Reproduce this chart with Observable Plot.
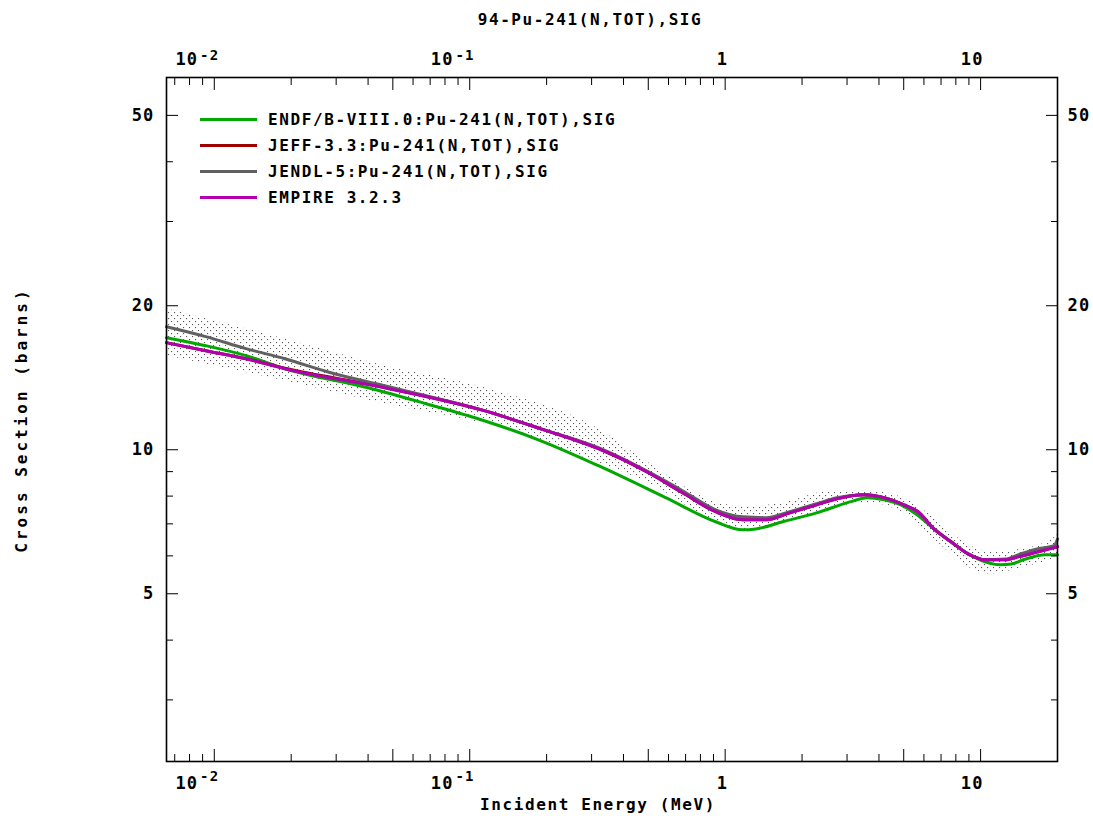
<!DOCTYPE html>
<html><head><meta charset="utf-8">
<script src="https://cdn.jsdelivr.net/npm/d3@7"></script>
<script src="https://cdn.jsdelivr.net/npm/@observablehq/plot@0.6"></script>
<style>
body{margin:0;background:#fff;}
#wrap{position:relative;width:1093px;height:816px;font-family:"DejaVu Sans Mono",monospace;font-weight:bold;font-size:16px;color:#000;}
#wrap svg text{letter-spacing:1.2px;}
.lbl{position:absolute;white-space:nowrap;letter-spacing:1.6px;line-height:16px;}
.leg{position:absolute;left:200px;top:106px;}
.leg .row{display:flex;align-items:center;height:26px;}
.leg .sw{width:57px;height:3px;margin-right:11px;}
.leg span{letter-spacing:1.6px;}
</style></head><body><div id="wrap"></div>
<script>
// ---- data ----
const seriesNames = ["ENDF/B-VIII.0:Pu-241(N,TOT),SIG","JEFF-3.3:Pu-241(N,TOT),SIG","JENDL-5:Pu-241(N,TOT),SIG","EMPIRE 3.2.3"];
const seriesColors = ["#00a800","#a00000","#606060","#b000b0"];

const endfE = [0.0065,0.00926,0.0133,0.0189,0.040,0.0675,0.114,0.19,0.319,0.585,0.918,1.17,1.32,1.68,2.28,3.08,3.59,4.19,4.88,5.64,6.57,7.66,8.93,10.4,12.0,13.2,15.0,17.9,20];
const endfS = [17.15,16.5,15.73,14.77,13.48,12.48,11.5,10.44,9.26,7.94,7.07,6.80,6.83,7.07,7.38,7.78,7.94,7.86,7.67,7.31,6.83,6.42,6.06,5.83,5.75,5.77,5.91,6.03,6.03];

const empireE = [0.0065,0.00926,0.0133,0.0189,0.0463,0.114,0.19,0.319,0.372,0.501,0.681,0.918,1.17,1.45,1.79,2.28,2.74,3.5,4.19,5.01,5.69,6.57,7.66,8.93,10.4,12.5,14.0,16.8,20];
const empireS = [16.74,16.11,15.5,14.77,13.48,12.07,11.06,10.05,9.71,8.95,8.13,7.42,7.14,7.14,7.38,7.67,7.90,8.05,7.94,7.67,7.42,6.83,6.42,6.06,5.89,5.89,5.97,6.12,6.27];

const jeffE = [0.0065,0.00926,0.0133,0.0189,0.0463,0.114,0.19,0.319,0.501,0.681,0.918,1.17,1.45,1.79,2.28,2.74,3.5,4.19,5.01,5.69,6.57,7.66,8.93,10.4,12.5,14.0,16.8,20];
const jeffS = [16.74,16.11,15.5,14.8,13.5,12.07,11.06,10.05,8.95,8.13,7.42,7.14,7.14,7.38,7.67,7.90,8.05,7.94,7.67,7.42,6.83,6.42,6.06,5.89,5.89,5.97,6.12,6.27];

const jendlE = [0.0065,0.00926,0.0133,0.0189,0.0286,0.0463,0.114,0.19,0.319,0.501,0.681,0.918,1.17,1.45,1.79,2.28,2.74,3.5,4.19,5.01,5.69,6.57,7.66,8.93,10.4,12.5,14.0,16.8,19.4,20];
const jendlS = [18.08,17.24,16.27,15.5,14.49,13.61,12.07,11.06,10.1,8.99,8.21,7.49,7.24,7.21,7.42,7.71,7.94,8.05,7.94,7.67,7.38,6.83,6.42,6.06,5.89,5.91,6.03,6.21,6.30,6.51];

const bandE  = [0.0065,0.0187,0.0463,0.114,0.319,0.501,0.918,1.25,1.68,2.66,3.59,4.88,6.57,8.93,11.0,14.0,19.1,20];
const bandHi = [19.72,17.07,14.99,13.48,11.06,9.39,7.78,7.60,7.75,8.21,8.21,7.97,7.21,6.33,6.12,6.18,6.51,6.64];
const bandLo = [15.73,13.95,12.48,11.33,9.39,8.53,7.07,6.74,7.04,7.56,7.75,7.42,6.51,5.69,5.50,5.64,5.91,5.97];

const xDomain = [0.0065, 20];
const yDomain = [2.23, 60];
const xMinor = [0.007,0.008,0.009,0.02,0.03,0.04,0.06,0.07,0.08,0.09,0.2,0.3,0.4,0.6,0.7,0.8,0.9,2,3,4,6,7,8,9];
const xMajor = [0.01,0.05,0.1,0.5,1,5,10];
const xPowTicks = [0.01,0.1];          // labelled as 10 with exponent
const xPowExp = ["-2","-1"];
const xPlainTicks = [1,10];
const xPlainText = ["1","10"];
const yMinor = [3,4,6,7,8,9,30,40];
const yMajor = [5,10,20,50];

// ---- build tables ----
const lines = [];
[[endfE,endfS],[jeffE,jeffS],[jendlE,jendlS],[empireE,empireS]].forEach(([E,S],k)=>{
  E.forEach((e,i)=>lines.push({series:seriesNames[k], E:e, S:S[i]}));
});
const band = bandE.map((e,i)=>({E:e, hi:bandHi[i], lo:bandLo[i]}));
const powBase = () => "10";
const powExp = d => xPowExp[xPowTicks.indexOf(d)];
const plainFmt = d => xPlainText[xPlainTicks.indexOf(d)];

function xLabelAxes(anchor, pad) {
  return [
    Plot.axisX(xPowTicks, {anchor, tickSize: 0, tickPadding: pad, tickFormat: powBase, textAnchor: "end", dx: -16, label: null}),
    Plot.axisX(xPowTicks, {anchor, tickSize: 0, tickPadding: pad, tickFormat: powExp, textAnchor: "end", dx: 5, dy: -5, fontSize: 14, label: null}),
    Plot.axisX(xPlainTicks, {anchor, tickSize: 0, tickPadding: pad, tickFormat: plainFmt, textAnchor: "end", dx: 3, label: null})
  ];
}

const chart = Plot.plot({
  width: 1093, height: 816,
  marginLeft: 166, marginRight: 36, marginTop: 77, marginBottom: 55,
  style: {fontFamily: "DejaVu Sans Mono", fontSize: "17px", fontWeight: "bold", color: "#000", background: "#fff"},
  x: {type: "log", domain: xDomain, axis: null},
  y: {type: "log", domain: yDomain, axis: null},
  color: {domain: seriesNames, range: seriesColors},
  marks: [
    Plot.areaY(band, {x: "E", y1: "lo", y2: "hi", fill: "url(#dots)", curve: "monotone-x"}),
    Plot.line(lines, {x: "E", y: "S", z: "series", stroke: "series", strokeWidth: 3, curve: "monotone-x"}),
    Plot.frame({stroke: "#000", strokeWidth: 1.6}),
    // inward ticks
    Plot.axisX(xMinor, {anchor: "bottom", tickSize: -7, fill: "none", label: null}),
    Plot.axisX(xMajor, {anchor: "bottom", tickSize: -12, fill: "none", label: null}),
    Plot.axisX(xMinor, {anchor: "top", tickSize: -7, fill: "none", label: null}),
    Plot.axisX(xMajor, {anchor: "top", tickSize: -12, fill: "none", label: null}),
    Plot.axisY(yMinor, {anchor: "left", tickSize: -7, fill: "none", label: null}),
    Plot.axisY(yMajor, {anchor: "left", tickSize: -12, fill: "none", label: null}),
    Plot.axisY(yMinor, {anchor: "right", tickSize: -7, fill: "none", label: null}),
    Plot.axisY(yMajor, {anchor: "right", tickSize: -12, fill: "none", label: null}),
    // labels
    ...xLabelAxes("bottom", 15),
    ...xLabelAxes("top", 13),
    Plot.axisY(yMajor, {anchor: "left", tickSize: 0, tickPadding: 12, label: null}),
    Plot.axisY(yMajor, {anchor: "right", tickSize: 0, tickPadding: 10, label: null})
  ]
});

// dotted pattern for the uncertainty band
const ns = "http://www.w3.org/2000/svg";
const defs = document.createElementNS(ns, "defs");
const pat = document.createElementNS(ns, "pattern");
pat.setAttribute("id", "dots"); pat.setAttribute("width", 6); pat.setAttribute("height", 6);
pat.setAttribute("patternUnits", "userSpaceOnUse");
[[0,0],[3,3]].forEach(([px,py])=>{
  const r = document.createElementNS(ns, "rect");
  r.setAttribute("x", px); r.setAttribute("y", py); r.setAttribute("width", 1.1); r.setAttribute("height", 1.1);
  r.setAttribute("fill", "#555");
  pat.appendChild(r);
});
defs.appendChild(pat);
chart.insertBefore(defs, chart.firstChild);

const wrap = document.getElementById("wrap");
chart.style.position = "absolute"; chart.style.left = "0"; chart.style.top = "0";
wrap.appendChild(chart);

// title and axis labels
function addLabel(text, css){
  const d = document.createElement("div"); d.className = "lbl"; d.textContent = text;
  Object.assign(d.style, css); wrap.appendChild(d); return d;
}
addLabel("94-Pu-241(N,TOT),SIG", {left: "590px", top: "12px", transform: "translateX(-50%)"});
addLabel("Incident Energy (MeV)", {left: "598px", top: "797px", transform: "translateX(-50%)"});
addLabel("Cross Section (barns)", {left: "22px", top: "420px", transform: "translate(-50%,-50%) rotate(-90deg)", letterSpacing: "3px"});

// legend
const leg = document.createElement("div"); leg.className = "leg";
seriesNames.forEach((n,i)=>{
  const row = document.createElement("div"); row.className = "row";
  const sw = document.createElement("div"); sw.className = "sw"; sw.style.background = seriesColors[i];
  const t = document.createElement("span"); t.textContent = n;
  row.appendChild(sw); row.appendChild(t); leg.appendChild(row);
});
wrap.appendChild(leg);
</script>
</body></html>
